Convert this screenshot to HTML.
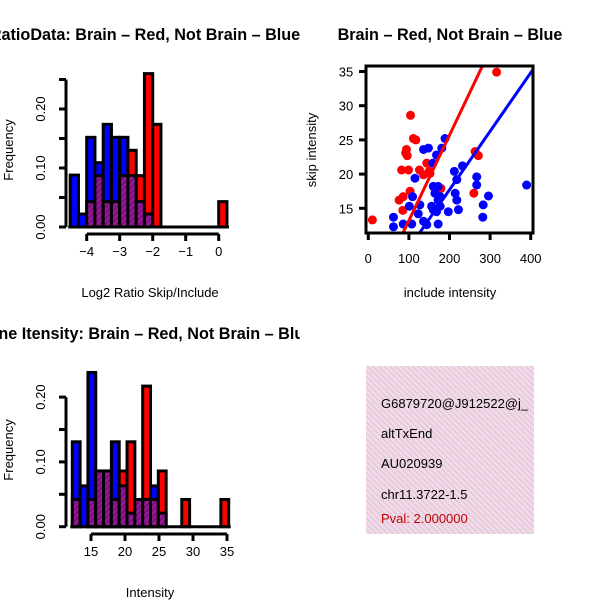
<!DOCTYPE html>
<html><head><meta charset="utf-8"><style>
html,body{margin:0;padding:0;background:#fff}
svg{display:block;font-family:"Liberation Sans",Arial,sans-serif}
</style></head><body>
<svg id="c" width="600" height="600" viewBox="0 0 600 600">
<defs>
<pattern id="purp" width="4" height="4" patternUnits="userSpaceOnUse" patternTransform="rotate(45)">
<rect width="4" height="4" fill="#9a1a9a"/><rect width="2" height="4" fill="#7a107a"/></pattern>
<pattern id="pink" width="4" height="4" patternUnits="userSpaceOnUse" patternTransform="rotate(-45)">
<rect width="4" height="4" fill="#f6d6f0"/><rect width="1.3" height="4" fill="#d8d0c8"/></pattern>
<clipPath id="clipTL"><rect x="0" y="0" width="300" height="300"/></clipPath>
<clipPath id="clipBL"><rect x="0" y="300" width="300" height="300"/></clipPath>
<clipPath id="clipSC"><rect x="366" y="66" width="167" height="167"/></clipPath>
<clipPath id="clipInfo"><rect x="366" y="366" width="168" height="168"/></clipPath>
</defs>
<g id="tl" clip-path="url(#clipTL)"></g>
<g id="bl" clip-path="url(#clipBL)"></g>
<g id="sc"></g>
<g>
<rect x="366" y="366" width="168" height="168" fill="url(#pink)"/>
<g clip-path="url(#clipInfo)" font-size="13">
<text x="381" y="408">G6879720@J912522@j_</text>
<text x="381" y="438">altTxEnd</text>
<text x="381" y="468">AU020939</text>
<text x="381" y="499">chr11.3722-1.5</text>
<text x="381" y="523" fill="#c00000">Pval: 2.000000</text>
</g></g>
</svg>
<script>
// Ratio histogram data
const ratioStart = -4.5;
const ratioWidth = 0.25;
const ratioBlue = [0.088,0.022,0.152,0.109,0.174,0.152,0.152,0.087,0.043,0.022,0,0,0,0,0,0,0,0,0];
const ratioRed  = [0,0,0.043,0.087,0.043,0.043,0.087,0.13,0.087,0.26,0.174,0,0,0,0,0,0,0,0.043];
const ratioXTicks = [-4,-3,-2,-1,0];
const ratioYTicks = [0,0.05,0.1,0.15,0.2,0.25];
const ratioYLabels = ["0.00","","0.10","","0.20",""];
// Intensity histogram data
const intStart = 12.25;
const intWidth = 1.15;
const intBlue = [0.131,0.063,0.238,0.086,0.086,0.131,0.063,0.021,0.042,0.042,0.063,0.021,0,0,0,0,0,0,0,0];
const intRed  = [0.042,0,0.042,0.086,0.086,0.042,0.086,0.131,0.042,0.217,0.042,0.086,0,0,0.042,0,0,0,0,0.042];
const intXTicks = [15,20,25,30,35];
const intYTicks = [0,0.05,0.1,0.15,0.2];
const intYLabels = ["0.00","","0.10","","0.20"];
// Scatter data
const redX = [10,316,104,111,117,94,96,82,99,126,144,136,152,263,271,103,86,76,85,260,179,92,150];
const redY = [13.3,34.9,28.6,25.2,25.0,23.6,22.7,20.6,20.6,20.6,21.6,19.9,20.1,23.3,22.7,17.5,16.7,16.2,14.7,17.2,17.9,23.1,20.4];
const blueX = [62,62,86,107,136,144,172,123,101,127,109,115,136,148,159,168,181,189,160,172,164,172,177,160,168,197,214,218,222,212,218,232,267,267,296,283,282,390,156,177];
const blueY = [13.7,12.3,12.7,12.7,13.1,12.6,12.7,14.2,15.3,15.5,16.7,19.4,23.6,23.8,21.6,22.8,23.8,25.2,18.2,18.2,17.2,16.2,15.3,14.8,14.5,14.5,17.2,16.2,14.8,20.4,19.2,21.2,19.6,18.4,16.8,15.5,13.7,18.4,15.3,16.7];
const fitRed = [0.73, 0.1248];
const fitBlue = [0.61, 0.0855];
const scXTicks = [0,100,200,300,400];
const scYTicks = [15,20,25,30,35];

const NS="http://www.w3.org/2000/svg";
function mk(p,tag,a){const e=document.createElementNS(NS,tag);for(const k in a)e.setAttribute(k,a[k]);p.appendChild(e);return e;}

function hist(g,o){
  const sx=v=>o.x0+(v-o.v0)*o.kx, sy=v=>o.y0-v*o.ky;
  const n=o.blue.length;
  for(let i=0;i<n;i++){
    const b=o.blue[i], r=o.red[i];
    const xa=sx(o.start+i*o.w), xb=sx(o.start+(i+1)*o.w);
    const hi=Math.max(b,r), lo=Math.min(b,r);
    if(hi>0){
      const e=mk(g,'rect',{x:xa,y:sy(hi),width:xb-xa,height:sy(0)-sy(hi),fill:b>=r?'#0000ff':'#ff0000',stroke:'#000','stroke-width':3});
      
      
    }
    if(lo>0){
      const e=mk(g,'rect',{x:xa,y:sy(lo),width:xb-xa,height:sy(0)-sy(lo),fill:'url(#purp)',stroke:'#000','stroke-width':3});
      
      
    }
  }
  const bl=mk(g,'line',{x1:sx(o.start)-2,x2:sx(o.start+n*o.w)+2,y1:sy(0),y2:sy(0),stroke:'#000','stroke-width':3});
  
  
  const ay=o.axY;
  const xa=mk(g,'line',{x1:sx(o.xt[0]),x2:sx(o.xt[o.xt.length-1]),y1:ay,y2:ay,stroke:'#000','stroke-width':3});
  
  
  o.xt.forEach(t=>{
    mk(g,'line',{x1:sx(t),x2:sx(t),y1:ay,y2:ay+7,stroke:'#000','stroke-width':3});
    const tx=mk(g,'text',{x:sx(t),y:ay+22,'text-anchor':'middle','font-size':13});
    tx.textContent=String(t).replace('-','\u2212');
    
    
  });
  const ax=o.axX;
  const ya=mk(g,'line',{x1:ax,x2:ax,y1:sy(o.yt[0]),y2:sy(o.yt[o.yt.length-1]),stroke:'#000','stroke-width':3});
  
  
  o.yt.forEach((t,i)=>{
    mk(g,'line',{x1:ax,x2:ax-7,y1:sy(t),y2:sy(t),stroke:'#000','stroke-width':3});
    if(o.yl[i]){
      const tx=mk(g,'text',{x:ax-21,y:sy(t),'text-anchor':'middle','font-size':13,transform:`rotate(-90 ${ax-21} ${sy(t)})`});
      tx.textContent=o.yl[i];
      
      
    }
  });
  const t=mk(g,'text',{x:145,y:o.titleY,'text-anchor':'middle','font-size':16.2,'font-weight':'bold'});
  t.textContent=o.title;
  
  
  const xl=mk(g,'text',{x:150,y:o.xlabY,'text-anchor':'middle','font-size':13});
  xl.textContent=o.xlab;
  
  
  const yl=mk(g,'text',{x:13,y:o.ylabY,'text-anchor':'middle','font-size':13,transform:`rotate(-90 13 ${o.ylabY})`});
  yl.textContent='Frequency';
  
  
}

hist(document.getElementById('tl'),{blue:ratioBlue,red:ratioRed,start:ratioStart,w:ratioWidth,v0:-4,x0:86.7,kx:33,y0:227,ky:590,
  xt:ratioXTicks,yt:ratioYTicks,yl:ratioYLabels,axY:234,axX:66,titleY:40,xlabY:297,ylabY:150,
  title:'RatioData: Brain \u2013 Red, Not Brain \u2013 Blue',xlab:'Log2 Ratio Skip/Include'});
hist(document.getElementById('bl'),{blue:intBlue,red:intRed,start:intStart,w:intWidth,v0:15,x0:91,kx:6.8,y0:526.7,ky:648,
  xt:intXTicks,yt:intYTicks,yl:intYLabels,axY:534,axX:66,titleY:339,xlabY:597,ylabY:450,
  title:'Gene Itensity: Brain \u2013 Red, Not Brain \u2013 Blue',xlab:'Intensity'});

(function(){
  const g=document.getElementById('sc');
  const sx=v=>368.3+v*0.406, sy=v=>208.3-(v-15)*6.84;
  const pts=mk(g,'g',{'clip-path':'url(#clipSC)'});
  const draw=(X,Y,col,name)=>X.forEach((x,i)=>{
    const c=mk(pts,'circle',{cx:sx(x),cy:sy(Y[i]),r:4.5,fill:col});
    
    
  });
  draw(redX,redY,'#ff0000','point-red');
  draw(blueX,blueY,'#0000ff','point-blue');
  const line=(f,col,name)=>{
    const l=mk(pts,'line',{x1:sx(-10),y1:sy(f[0]+f[1]*-10),x2:sx(420),y2:sy(f[0]+f[1]*420),stroke:col,'stroke-width':3});
    
    
  };
  line(fitRed,'#ff0000','fit-line-red');
  line(fitBlue,'#0000ff','fit-line-blue');
  const box=mk(g,'rect',{x:366,y:66,width:167,height:167,fill:'none',stroke:'#000','stroke-width':3});
  
  
  scXTicks.forEach(t=>{
    mk(g,'line',{x1:sx(t),x2:sx(t),y1:233,y2:240,stroke:'#000','stroke-width':3});
    const tx=mk(g,'text',{x:sx(t),y:263,'text-anchor':'middle','font-size':13});
    tx.textContent=t;
    
    
  });
  scYTicks.forEach(t=>{
    mk(g,'line',{x1:366,x2:359,y1:sy(t),y2:sy(t),stroke:'#000','stroke-width':3});
    const tx=mk(g,'text',{x:346,y:sy(t)+5,'text-anchor':'middle','font-size':13});
    tx.textContent=t;
    
    
  });
  const t=mk(g,'text',{x:450,y:40,'text-anchor':'middle','font-size':16.2,'font-weight':'bold'});
  t.textContent='Brain \u2013 Red, Not Brain \u2013 Blue';
  
  
  const xl=mk(g,'text',{x:450,y:297,'text-anchor':'middle','font-size':13});
  xl.textContent='include intensity';
  
  
  const yl=mk(g,'text',{x:316,y:150,'text-anchor':'middle','font-size':13,transform:'rotate(-90 316 150)'});
  yl.textContent='skip intensity';
  
  
})();
</script>
</body></html>
